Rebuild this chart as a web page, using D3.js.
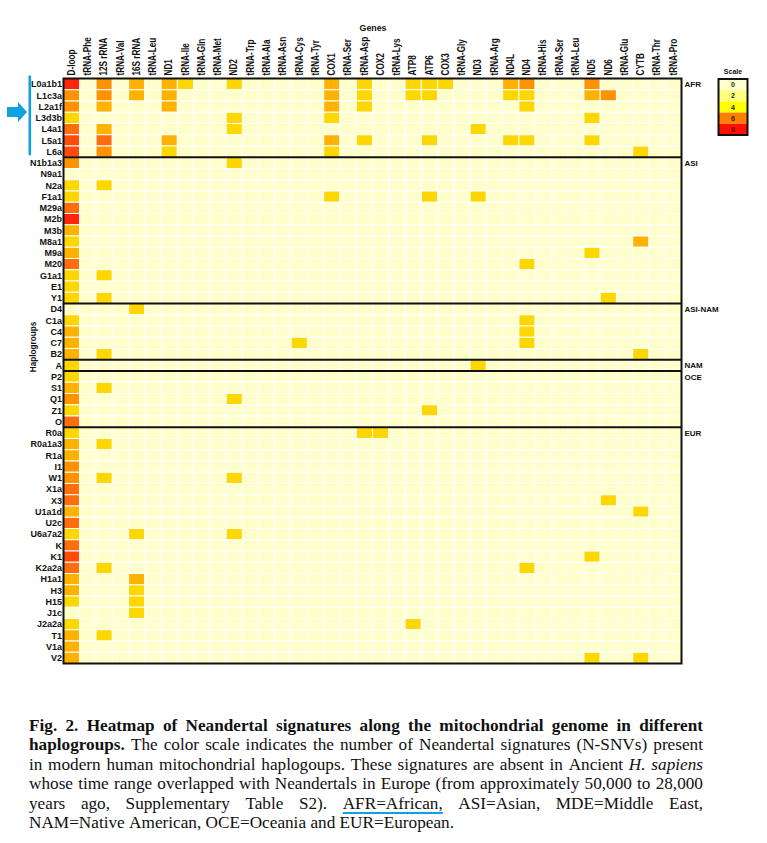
<!DOCTYPE html>
<html>
<head>
<meta charset="utf-8">
<script src="https://cdn.jsdelivr.net/npm/d3@7"></script>
<style>
body { margin: 0; background: #fff; }
svg { display: block; }
.lab { font-family: "Liberation Sans", Arial, sans-serif; font-weight: bold; fill: #111; }
.cap { font-family: "Liberation Serif", "Times New Roman", serif; font-size: 16px; fill: #111; }
</style>
</head>
<body>
<svg id="chart" width="767" height="843"></svg>
<script>
// genes along the mitochondrial genome (columns)
var genes = ["D-loop", "tRNA-Phe", "12S rRNA", "tRNA-Val", "16S rRNA", "tRNA-Leu", "ND1", "tRNA-Ile",
  "tRNA-Gln", "tRNA-Met", "ND2", "tRNA-Trp", "tRNA-Ala", "tRNA-Asn", "tRNA-Cys", "tRNA-Tyr", "COX1",
  "tRNA-Ser", "tRNA-Asp", "COX2", "tRNA-Lys", "ATP8", "ATP6", "COX3", "tRNA-Gly", "ND3", "tRNA-Arg",
  "ND4L", "ND4", "tRNA-His", "tRNA-Ser", "tRNA-Leu", "ND5", "ND6", "tRNA-Glu", "CYTB", "tRNA-Thr", "tRNA-Pro"];

// haplogroups (rows), grouped by region
var haplogroups = ["L0a1b1", "L1c3a", "L2a1f", "L3d3b", "L4a1", "L5a1", "L6a",
  "N1b1a3", "N9a1", "N2a", "F1a1", "M29a", "M2b", "M3b", "M8a1", "M9a", "M20", "G1a1", "E1", "Y1",
  "D4", "C1a", "C4", "C7", "B2",
  "A",
  "P2", "S1", "Q1", "Z1", "O",
  "R0a", "R0a1a3", "R1a", "I1", "W1", "X1a", "X3", "U1a1d", "U2c", "U6a7a2", "K", "K1", "K2a2a",
  "H1a1", "H3", "H15", "J1c", "J2a2a", "T1", "V1a", "V2"];
var regions = ["AFR", "ASI", "ASI-NAM", "NAM", "OCE", "EUR"];
var regionSizes = [7, 13, 5, 1, 5, 21];

// non-zero cells: [haplogroup, gene, N-SNV level]
var afrCounts = [
  ["L0a1b1", "D-loop", 6], ["L0a1b1", "12S rRNA", 3], ["L0a1b1", "16S rRNA", 2], ["L0a1b1", "ND1", 2],
  ["L0a1b1", "tRNA-Ile", 1], ["L0a1b1", "ND2", 1], ["L0a1b1", "COX1", 2], ["L0a1b1", "tRNA-Asp", 1],
  ["L0a1b1", "ATP8", 1], ["L0a1b1", "ATP6", 1], ["L0a1b1", "COX3", 1], ["L0a1b1", "ND4L", 2],
  ["L0a1b1", "ND4", 3], ["L0a1b1", "ND5", 3],
  ["L1c3a", "D-loop", 3], ["L1c3a", "12S rRNA", 3], ["L1c3a", "16S rRNA", 2], ["L1c3a", "ND1", 2],
  ["L1c3a", "COX1", 2], ["L1c3a", "tRNA-Asp", 1], ["L1c3a", "ATP8", 1], ["L1c3a", "ATP6", 1],
  ["L1c3a", "ND4L", 1], ["L1c3a", "ND4", 1], ["L1c3a", "ND5", 2], ["L1c3a", "ND6", 3],
  ["L2a1f", "D-loop", 3], ["L2a1f", "12S rRNA", 2], ["L2a1f", "ND1", 2], ["L2a1f", "COX1", 2],
  ["L2a1f", "tRNA-Asp", 1], ["L2a1f", "ND4", 1],
  ["L3d3b", "D-loop", 1], ["L3d3b", "ND2", 1], ["L3d3b", "COX1", 1], ["L3d3b", "ND5", 1],
  ["L4a1", "D-loop", 4], ["L4a1", "12S rRNA", 2], ["L4a1", "ND2", 1], ["L4a1", "ND3", 1],
  ["L5a1", "D-loop", 5], ["L5a1", "12S rRNA", 4], ["L5a1", "ND1", 2], ["L5a1", "COX1", 2],
  ["L5a1", "tRNA-Asp", 1], ["L5a1", "ATP6", 1], ["L5a1", "ND4L", 1], ["L5a1", "ND4", 1], ["L5a1", "ND5", 1],
  ["L6a", "D-loop", 5], ["L6a", "12S rRNA", 3], ["L6a", "ND1", 1], ["L6a", "COX1", 1], ["L6a", "CYTB", 1]
];
var asiCounts = [
  ["N1b1a3", "D-loop", 3], ["N1b1a3", "ND2", 1],
  ["N2a", "D-loop", 1], ["N2a", "12S rRNA", 1],
  ["F1a1", "D-loop", 1], ["F1a1", "COX1", 1], ["F1a1", "ATP6", 1], ["F1a1", "ND3", 1],
  ["M29a", "D-loop", 4], ["M2b", "D-loop", 6], ["M3b", "D-loop", 2],
  ["M8a1", "D-loop", 1], ["M8a1", "CYTB", 2],
  ["M9a", "D-loop", 2], ["M9a", "ND5", 1],
  ["M20", "D-loop", 4], ["M20", "ND4", 1],
  ["G1a1", "D-loop", 1], ["G1a1", "12S rRNA", 1],
  ["E1", "D-loop", 1],
  ["Y1", "D-loop", 1], ["Y1", "12S rRNA", 1], ["Y1", "ND6", 1]
];
var asiNamCounts = [
  ["D4", "16S rRNA", 1],
  ["C1a", "D-loop", 1], ["C1a", "ND4", 1],
  ["C4", "D-loop", 2], ["C4", "ND4", 1],
  ["C7", "D-loop", 2], ["C7", "tRNA-Cys", 1], ["C7", "ND4", 1],
  ["B2", "D-loop", 2], ["B2", "12S rRNA", 1], ["B2", "CYTB", 1]
];
var namCounts = [["A", "D-loop", 1], ["A", "ND3", 1]];
var oceCounts = [
  ["P2", "D-loop", 1],
  ["S1", "D-loop", 2], ["S1", "12S rRNA", 1],
  ["Q1", "D-loop", 3], ["Q1", "ND2", 1],
  ["Z1", "D-loop", 1], ["Z1", "ATP6", 1],
  ["O", "D-loop", 4]
];
var eurCounts = [
  ["R0a", "D-loop", 1], ["R0a", "tRNA-Asp", 1], ["R0a", "COX2", 1],
  ["R0a1a3", "D-loop", 2], ["R0a1a3", "12S rRNA", 1],
  ["R1a", "D-loop", 2], ["I1", "D-loop", 3],
  ["W1", "D-loop", 3], ["W1", "12S rRNA", 1], ["W1", "ND2", 1],
  ["X1a", "D-loop", 4],
  ["X3", "D-loop", 4], ["X3", "ND6", 1],
  ["U1a1d", "D-loop", 2], ["U1a1d", "CYTB", 1],
  ["U2c", "D-loop", 4],
  ["U6a7a2", "D-loop", 1], ["U6a7a2", "16S rRNA", 1], ["U6a7a2", "ND2", 1],
  ["K", "D-loop", 4],
  ["K1", "D-loop", 5], ["K1", "ND5", 1],
  ["K2a2a", "D-loop", 4], ["K2a2a", "12S rRNA", 1], ["K2a2a", "ND4", 1],
  ["H1a1", "D-loop", 2], ["H1a1", "16S rRNA", 2],
  ["H3", "D-loop", 2], ["H3", "16S rRNA", 1],
  ["H15", "D-loop", 1], ["H15", "16S rRNA", 1],
  ["J1c", "16S rRNA", 1],
  ["J2a2a", "D-loop", 1], ["J2a2a", "ATP8", 1],
  ["T1", "D-loop", 2], ["T1", "12S rRNA", 1],
  ["V1a", "D-loop", 2],
  ["V2", "D-loop", 2], ["V2", "ND5", 1], ["V2", "CYTB", 1]
];

// cell colours by level, and the legend as printed
var levels = [0, 1, 2, 3, 4, 5, 6];
var levelColors = ["#ffffcc", "#ffd700", "#ffb300", "#ff9200", "#ff6e0c", "#ff4a0a", "#ff240a"];
var scaleTicks = [0, 2, 4, 6, 8];
var scaleColors = ["#ffffcc", "#ffff80", "#ffff00", "#ff8000", "#ff1000"];

var capLines = [
  [["Fig. 2. Heatmap of Neandertal signatures along the mitochondrial genome in different", "b"]],
  [["haplogroups.", "b"], ["The color scale indicates the number of Neandertal signatures (N-SNVs) present", ""]],
  [["in modern human mitochondrial haplogoups. These signatures are absent in Ancient", ""], ["H. sapiens", "i"]],
  [["whose time range overlapped with Neandertals in Europe (from approximately 50,000 to 28,000", ""]],
  [["years ago, Supplementary Table S2). AFR=African, ASI=Asian, MDE=Middle East,", ""]],
  [["NAM=Native American, OCE=Oceania and EUR=European.", ""]]
];

var svg = d3.select("#chart");
var plotL = 63.5, plotR = 681.5, plotT = 78.5, plotB = 663.5;
var blue = "#0ea2e2";

var x = d3.scaleBand().domain(d3.range(genes.length)).range([plotL, plotR]);
var y = d3.scaleBand().domain(haplogroups).range([plotT, plotB]);
var color = d3.scaleLinear().domain(levels).range(levelColors);

var lookup = new Map();
[].concat(afrCounts, asiCounts, asiNamCounts, namCounts, oceCounts, eurCounts).forEach(function(d) {
  lookup.set(d[0] + "|" + genes.indexOf(d[1]), d[2]);
});
var cells = [];
haplogroups.forEach(function(h) {
  genes.forEach(function(g, i) {
    cells.push({h: h, i: i, v: lookup.get(h + "|" + i) || 0});
  });
});

svg.append("g").selectAll("rect").data(cells).join("rect")
  .attr("x", d => x(d.i)).attr("y", d => y(d.h))
  .attr("width", x.bandwidth()).attr("height", y.bandwidth())
  .attr("fill", d => color(d.v))
  .attr("stroke", "#fff").attr("stroke-width", 1);

// region separators + labels
var starts = Array.from(d3.cumsum([0].concat(regionSizes))).slice(0, regions.length);
svg.append("g").selectAll("line").data(starts.slice(1)).join("line")
  .attr("x1", plotL).attr("x2", plotR)
  .attr("y1", d => y(haplogroups[d])).attr("y2", d => y(haplogroups[d]))
  .attr("stroke", "#111").attr("stroke-width", 2);
svg.append("rect").attr("x", plotL).attr("y", plotT)
  .attr("width", plotR - plotL).attr("height", plotB - plotT)
  .attr("fill", "none").attr("stroke", "#111").attr("stroke-width", 2);
svg.append("g").selectAll("text").data(regions).join("text")
  .attr("class", "lab").style("font-size", "8px")
  .attr("x", plotR + 3).attr("y", (d, i) => y(haplogroups[starts[i]]) + 8.5)
  .text(d => d);

// row labels
svg.append("g").selectAll("text").data(haplogroups).join("text")
  .attr("class", "lab").style("font-size", "9px")
  .attr("text-anchor", "end")
  .attr("x", plotL - 1.5).attr("y", d => y(d) + y.bandwidth() / 2 + 3.2)
  .text(d => d);

// gene labels
svg.append("g").selectAll("text").data(genes).join("text")
  .attr("class", "lab").style("font-size", "8.2px")
  .attr("transform", (d, i) => "translate(" + (x(i) + x.bandwidth() / 2 + 3.2) + "," + (plotT - 3) + ") rotate(-90) scale(1,1.3)")
  .text(d => d);

svg.append("text").attr("class", "lab").style("font-size", "8.8px")
  .attr("x", 373).attr("y", 31).attr("text-anchor", "middle").text("Genes");
svg.append("text").attr("class", "lab").style("font-size", "8.2px")
  .attr("text-anchor", "middle").attr("transform", "translate(35.5,347) rotate(-90)")
  .text("Haplogroups");

// legend
var lg = svg.append("g").attr("transform", "translate(718.5,79)");
var lh = 11.2;
lg.append("text").attr("class", "lab").style("font-size", "7px")
  .attr("x", 14.5).attr("y", -5).attr("text-anchor", "middle").text("Scale");
lg.selectAll("rect.c").data(scaleTicks).join("rect").attr("class", "c")
  .attr("x", 0).attr("y", (d, i) => i * lh).attr("width", 29).attr("height", lh)
  .attr("fill", (d, i) => scaleColors[i]);
lg.selectAll("text.t").data(scaleTicks).join("text").attr("class", "lab t")
  .style("font-size", "7px").attr("text-anchor", "middle")
  .attr("x", 14.5).attr("y", (d, i) => i * lh + 8.2)
  .style("fill", d => d === 8 ? "#600" : "#222")
  .text(d => d);
lg.append("rect").attr("width", 29).attr("height", lh * scaleTicks.length)
  .attr("fill", "none").attr("stroke", "#111").attr("stroke-width", 2);

// blue annotation marks
var afrEnd = y(haplogroups[regionSizes[0] - 1]) + y.bandwidth();
svg.append("rect").attr("x", 28.5).attr("y", plotT - 3).attr("width", 2.6)
  .attr("height", afrEnd - plotT + 1).attr("fill", blue);
svg.append("path").attr("fill", blue)
  .attr("d", "M7,107 L18,107 L18,102 L27,112 L18,122 L18,117 L7,117 Z");

// caption, justified word by word
var capLeft = 29, capWidth = 674, capBase = 731, capStep = 19.5;
var cap = svg.append("g").attr("class", "cap");
var rows = capLines.map(function(line, li) {
  var g = cap.append("g");
  var words = [];
  line.forEach(function(seg) {
    seg[0].split(" ").forEach(function(w) { words.push({w: w, s: seg[1]}); });
  });
  words.forEach(function(d) {
    d.node = g.append("text").attr("y", capBase + li * capStep)
      .style("font-weight", d.s === "b" ? "bold" : null)
      .style("font-style", d.s === "i" ? "italic" : null)
      .text(d.w);
    d.len = d.node.node().getComputedTextLength();
  });
  return {g: g, words: words, sum: d3.sum(words, d => d.len)};
});
var space = 4;
var last = rows[rows.length - 1];
var sx = 425 / (last.sum + space * (last.words.length - 1));
rows.forEach(function(r, li) {
  var justify = li < rows.length - 1;
  var gap = justify ? (capWidth / sx - r.sum) / (r.words.length - 1) : space;
  var pos = 0;
  r.words.forEach(function(d) {
    d.node.attr("x", pos);
    d.x = pos;
    pos += d.len + gap;
  });
  r.g.attr("transform", "translate(" + capLeft + ",0) scale(" + sx + ",1)");
});
// underline under "AFR=African,"
rows[4].words.forEach(function(d) {
  if (d.w === "AFR=African,") {
    svg.append("rect").attr("x", capLeft + d.x * sx).attr("y", 812)
      .attr("width", d.len * sx).attr("height", 2).attr("fill", blue);
  }
});
</script>
</body>
</html>
